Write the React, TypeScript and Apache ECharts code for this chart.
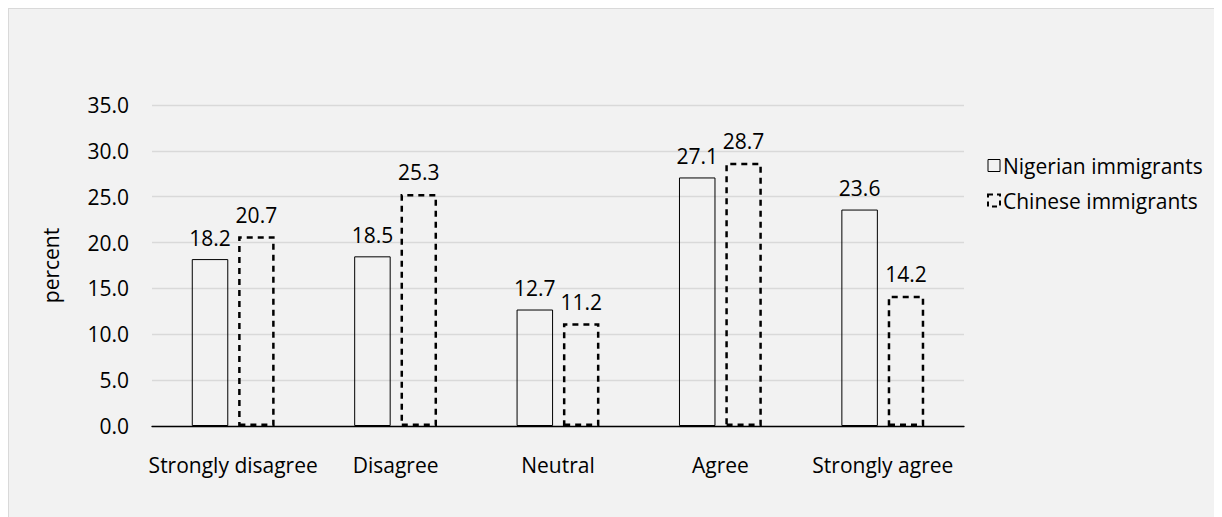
import React, { useEffect, useRef } from "react";
import * as echarts from "echarts";

const categories = ["Strongly disagree", "Disagree", "Neutral", "Agree", "Strongly agree"];
const nigerian = [18.2, 18.5, 12.7, 27.1, 23.6];
const chinese = [20.7, 25.3, 11.2, 28.7, 14.2];
const seriesNames = ["Nigerian immigrants", "Chinese immigrants"];

const FONT = "Open Sans";
const FS = 21;

export default function App() {
  const ref = useRef<HTMLDivElement>(null);
  useEffect(() => {
    if (!ref.current) return;
    const chart = echarts.init(ref.current, undefined, { renderer: "svg" });
    const labelCfg = {
      show: true,
      position: "top",
      distance: 11,
      color: "#000",
      fontSize: FS,
      fontFamily: FONT,
      formatter: (p: any) => Number(p.value).toFixed(1),
    };
    chart.setOption({
      animation: false,
      backgroundColor: "transparent",
      textStyle: { fontFamily: FONT },
      grid: { left: 143, top: 96, width: 812, height: 321, containLabel: false },
      legend: {
        orient: "vertical",
        left: 973,
        top: 141,
        itemWidth: 12,
        itemHeight: 12,
        itemGap: 14,
        textStyle: { fontSize: FS, color: "#000", fontFamily: FONT, padding: [0, 0, 0, -2] },
        data: [
          {
            name: seriesNames[0],
            icon: "rect",
            itemStyle: { color: "transparent", borderColor: "#000", borderWidth: 1 },
          },
          {
            name: seriesNames[1],
            icon: "rect",
            itemStyle: { color: "transparent", borderColor: "#000", borderWidth: 2, borderType: [5, 4] },
          },
        ],
      },
      xAxis: {
        type: "category",
        data: categories,
        axisLine: { lineStyle: { color: "#000", width: 1.3 } },
        axisTick: { show: false },
        axisLabel: { color: "#000", fontSize: FS, margin: 28, interval: 0, fontFamily: FONT },
      },
      yAxis: {
        type: "value",
        min: 0,
        max: 35,
        interval: 5,
        name: "percent",
        nameLocation: "middle",
        nameRotate: 90,
        nameGap: 91,
        nameTextStyle: { color: "#000", fontSize: FS, fontFamily: FONT },
        axisLine: { show: false },
        axisTick: { show: false },
        axisLabel: {
          color: "#000",
          fontSize: FS,
          margin: 23,
          formatter: (v: number) => v.toFixed(1),
          fontFamily: FONT,
        },
        splitLine: { lineStyle: { color: "#d9d9d9", width: 1.3 } },
      },
      series: [
        {
          name: seriesNames[0],
          type: "bar",
          data: nigerian,
          barWidth: 36.5,
          barGap: "27%",
          itemStyle: { color: "transparent", borderColor: "#000", borderWidth: 1 },
          label: labelCfg,
        },
        {
          name: seriesNames[1],
          type: "bar",
          data: chinese,
          barWidth: 36.5,
          itemStyle: { color: "transparent", borderColor: "#000", borderWidth: 2.5, borderType: [6, 5] },
          label: labelCfg,
        },
      ],
    });
    return () => chart.dispose();
  }, []);
  return (
    <div
      style={{
        width: 1214,
        height: 509,
        background: "#f2f2f2",
        borderTop: "1px solid #d9d9d9",
        borderLeft: "1px solid #d9d9d9",
        borderRight: "1px solid #d9d9d9",
        boxSizing: "border-box",
        position: "relative",
      }}
    >
      <div ref={ref} style={{ position: "absolute", left: 0, top: 0, width: 1212, height: 508 }} />
    </div>
  );
}
